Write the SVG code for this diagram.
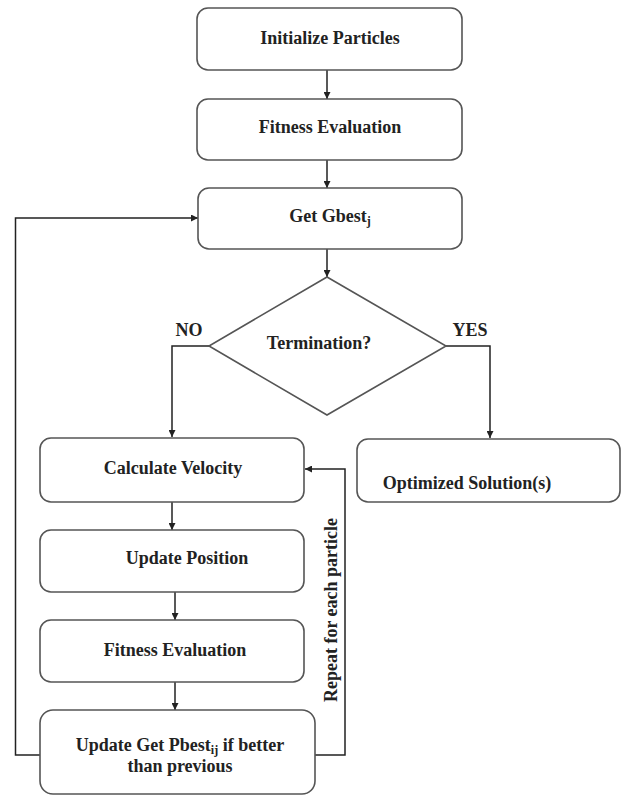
<svg xmlns="http://www.w3.org/2000/svg" width="621" height="796" viewBox="0 0 621 796">
<defs>
<marker id="ah" viewBox="0 0 10 10" refX="10" refY="5" markerWidth="7" markerHeight="7" markerUnits="userSpaceOnUse" orient="auto">
<path d="M0,0 L10,5 L0,10 z" fill="#222"/>
</marker>
<style>
.box{fill:#fff;stroke:#555;stroke-width:1.6}
.t{font-family:"Liberation Serif","Times New Roman",serif;font-weight:bold;font-size:18px;fill:#222;text-anchor:middle}
.c{fill:none;stroke:#222;stroke-width:1.5}
</style>
</defs>
<rect width="621" height="796" fill="#fff"/>
<g id="connectors">
<line class="c" x1="327" y1="70" x2="327" y2="99" marker-end="url(#ah)"/>
<line class="c" x1="327" y1="160" x2="327" y2="188" marker-end="url(#ah)"/>
<line class="c" x1="327" y1="249" x2="327" y2="277" marker-end="url(#ah)"/>
<polyline class="c" points="209,346 172,346 172,437" marker-end="url(#ah)"/>
<polyline class="c" points="446,346 490,346 490,438" marker-end="url(#ah)"/>
<line class="c" x1="172" y1="502" x2="172" y2="530" marker-end="url(#ah)"/>
<line class="c" x1="175" y1="592" x2="175" y2="620" marker-end="url(#ah)"/>
<line class="c" x1="175" y1="682" x2="175" y2="710" marker-end="url(#ah)"/>
<polyline class="c" points="40,755 15.5,755 15.5,218 198,218" marker-end="url(#ah)"/>
<polyline class="c" points="315,755 345,755 345,469 305,469" marker-end="url(#ah)"/>
<text class="t" transform="translate(337,610) rotate(-90)">Repeat for each particle</text>
<text class="t" x="189" y="336">NO</text>
<text class="t" x="470" y="336">YES</text>
</g>
<g id="init"><rect class="box" x="197" y="8" width="265" height="62" rx="11"/><text class="t" x="330" y="44">Initialize Particles</text></g>
<g id="fitness1"><rect class="box" x="197" y="99" width="265" height="61" rx="11"/><text class="t" x="330" y="133">Fitness Evaluation</text></g>
<g id="gbest"><rect class="box" x="198" y="188" width="264" height="61" rx="11"/><text class="t" x="330" y="222">Get Gbest<tspan font-size="12" dy="3">j</tspan></text></g>
<g id="termination"><polygon points="327,277 446,346 327,415 209,346" fill="#fff" stroke="#555" stroke-width="1.6"/><text class="t" x="319" y="349">Termination?</text></g>
<g id="optimized"><rect class="box" x="357" y="439" width="263" height="63" rx="11"/><text class="t" x="467" y="489">Optimized Solution(s)</text></g>
<g id="velocity"><rect class="box" x="40" y="438" width="264" height="64" rx="11"/><text class="t" x="173" y="474">Calculate Velocity</text></g>
<g id="position"><rect class="box" x="40" y="530" width="264" height="62" rx="11"/><text class="t" x="187" y="564">Update Position</text></g>
<g id="fitness2"><rect class="box" x="40" y="620" width="264" height="62" rx="11"/><text class="t" x="175" y="656">Fitness Evaluation</text></g>
<g id="pbest"><rect class="box" x="40" y="710" width="275" height="84" rx="13"/><text class="t" x="180" y="751">Update Get Pbest<tspan font-size="12" dy="3">ij</tspan><tspan dy="-3"> if better</tspan></text><text class="t" x="180" y="772">than previous</text></g>
</svg>
